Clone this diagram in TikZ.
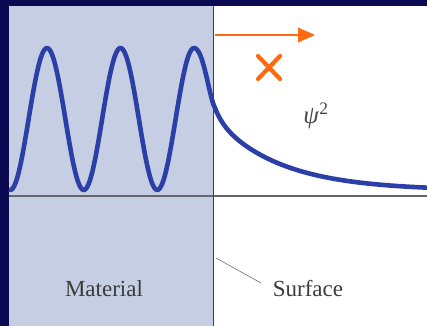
\documentclass[tikz,border=0pt]{standalone}
\usepackage{fontspec}
\setmainfont{Liberation Serif}
\definecolor{navy}{HTML}{0A0A52}
\definecolor{matfill}{HTML}{C5CEE2}
\definecolor{wave}{HTML}{2B3FA6}
\definecolor{orng}{HTML}{FF6A10}
\definecolor{txt}{HTML}{3C3C3C}
\begin{document}
\begin{tikzpicture}[x=1pt,y=-1pt,
  lbl/.style={text=txt,font=\fontsize{23}{23}\selectfont,inner sep=0pt},
  axis/.style={draw=black!60,line width=1.3pt},
  surfline/.style={draw=black!75,line width=1.8pt},
  wavecurve/.style={draw=wave,line width=4.6pt,line join=round},
  orangeline/.style={draw=orng,line width=2.8pt}]
\useasboundingbox (0,0) rectangle (427,326);
\fill[navy] (0,0) rectangle (427,326);
\fill[white] (9,6) rectangle (427,326);
\fill[matfill] (9,6) rectangle (213.5,326);
% axes
\draw[axis] (9,196) -- (427,196);
\draw[surfline] (213.5,6) -- (213.5,326);
% wave
\draw[wavecurve] plot[domain=9:194,samples=140,smooth] (\x,{119-71*cos(4.897959*(\x-47))})
  .. controls (203,48) and (208,90) .. (214,106)
  -- plot[domain=214:427,samples=80,smooth] (\x,{190.5-72*exp(-(\x-214)/66)-13*exp(-(\x-214)/8)});
% arrow
\coordinate (as) at (214.5,35);
\coordinate (ae) at (315,35);
\draw[orangeline] (as) -- ([xshift=-8pt]ae);
\fill[orng] (ae) -- ++(-17,-7.5) -- ++(0,15) -- cycle;
% cross
\coordinate (xc) at (269,67.5);
\draw[orng,line width=4.2pt,line cap=round] ([shift={(-11,-11.5)}]xc) -- ([shift={(11,11.5)}]xc);
\draw[orng,line width=4.2pt,line cap=round] ([shift={(11,-11.5)}]xc) -- ([shift={(-11,11.5)}]xc);
% labels
\node[text=black!72,inner sep=0pt,font=\fontsize{25}{25}\selectfont] (psi) at (316,116) {\textit{ψ}\textsuperscript{2}};
\node[lbl] (mat) at (104,289) {Material};
\node[lbl] (surf) at (308,289) {Surface};
\coordinate (sp) at (216,258);
\coordinate (se) at (261,283);
\draw[black!50,line width=0.7pt] (sp) -- (se);
\end{tikzpicture}
\end{document}
